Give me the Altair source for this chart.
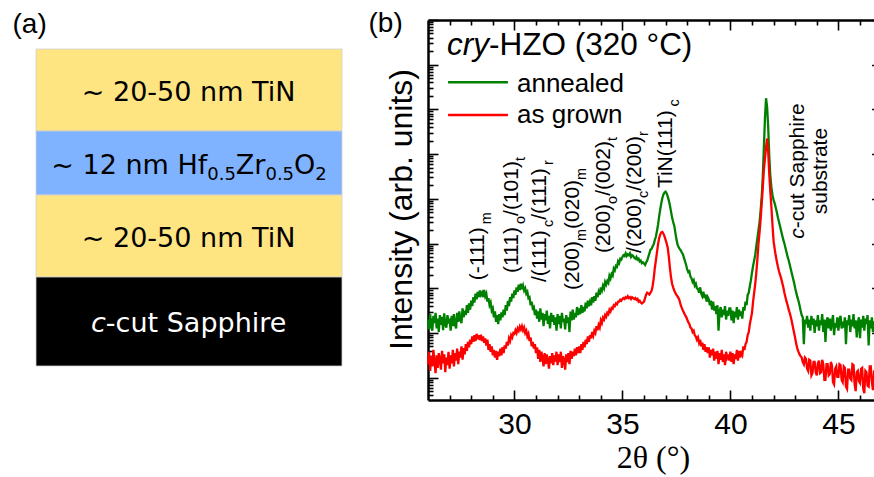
import altair as alt
import numpy as np
import pandas as pd

# ------------------------------------------------------------------ data
# 2θ sample positions (°), 0.05° steps
two_theta = np.round(np.arange(26.0, 47.025, 0.05), 2)

# log10 of the intensity (arb. units) (one row per degree)
annealed_log = [
    1.30, 1.08, 1.42, 1.15, 1.05, 1.38, 1.22, 1.45, 1.10, 1.32, 1.02, 1.40, 1.18, 1.36, 1.06, 1.44, 1.20, 1.12, 1.40, 1.25,  # 26
    1.28, 1.05, 1.38, 1.15, 1.42, 1.20, 1.10, 1.45, 1.25, 1.48, 1.30, 1.22, 1.55, 1.35, 1.50, 1.40, 1.62, 1.45, 1.66, 1.52,  # 27
    1.72, 1.60, 1.80, 1.68, 1.88, 1.75, 1.92, 1.80, 1.95, 1.85, 1.90, 1.80, 1.96, 1.82, 1.88, 1.70, 1.78, 1.62, 1.68, 1.50,  # 28
    1.55, 1.35, 1.48, 1.25, 1.40, 1.20, 1.42, 1.28, 1.46, 1.35, 1.52, 1.40, 1.62, 1.50, 1.72, 1.60, 1.80, 1.70, 1.88, 1.78,  # 29
    1.95, 1.85, 2.02, 1.92, 2.08, 1.96, 2.10, 1.98, 2.06, 1.95, 2.00, 1.88, 1.92, 1.78, 1.80, 1.62, 1.70, 1.55, 1.58, 1.40,  # 30
    1.52, 1.32, 1.48, 1.25, 1.55, 1.30, 1.45, 1.15, 1.42, 1.28, 1.50, 1.20, 1.38, 1.10, 1.45, 1.25, 1.40, 1.18, 1.35, 1.05,  # 31
    1.42, 1.20, 1.38, 1.10, 1.45, 1.25, 1.32, 1.08, 1.40, 1.22, 1.35, 1.02, 1.48, 1.28, 1.52, 1.30, 1.45, 1.35, 1.58, 1.40,  # 32
    1.55, 1.42, 1.62, 1.45, 1.58, 1.48, 1.68, 1.55, 1.72, 1.60, 1.70, 1.62, 1.80, 1.68, 1.82, 1.72, 1.90, 1.80, 1.92, 1.85,  # 33
    2.02, 1.95, 2.06, 2.00, 2.14, 2.08, 2.16, 2.12, 2.28, 2.22, 2.32, 2.28, 2.44, 2.40, 2.50, 2.48, 2.60, 2.56, 2.66, 2.64,  # 34
    2.70, 2.74, 2.72, 2.78, 2.72, 2.76, 2.74, 2.78, 2.70, 2.74, 2.72, 2.68, 2.66, 2.70, 2.64, 2.66, 2.60, 2.62, 2.56, 2.58,  # 35
    2.55, 2.52, 2.58, 2.62, 2.70, 2.78, 2.86, 2.88, 2.94, 2.98, 3.08, 3.15, 3.28, 3.42, 3.60, 3.76, 3.90, 4.02, 4.10, 4.14,  # 36
    4.16, 4.12, 4.05, 3.96, 3.85, 3.72, 3.58, 3.48, 3.40, 3.25, 3.10, 2.98, 2.92, 2.88, 2.85, 2.80, 2.76, 2.68, 2.60, 2.52,  # 37
    2.42, 2.36, 2.38, 2.26, 2.22, 2.14, 2.18, 2.06, 2.10, 2.00, 1.98, 1.90, 2.02, 1.88, 1.82, 1.92, 1.78, 1.86, 1.70, 1.80,  # 38
    1.75, 1.62, 1.72, 1.52, 1.70, 1.50, 1.60, 1.42, 1.62, 1.05, 1.48, 1.58, 1.35, 1.52, 1.40, 1.60, 1.30, 1.50, 1.38, 1.55,  # 39
    1.55, 1.28, 1.50, 1.22, 1.48, 1.35, 1.58, 1.30, 1.52, 1.38, 1.48, 1.32, 1.58, 1.50, 1.70, 1.62, 1.85, 1.90, 2.05, 2.18,  # 40
    2.35, 2.50, 2.62, 2.75, 2.95, 3.12, 3.30, 3.48, 3.75, 4.05, 4.50, 5.15, 5.80, 6.25, 6.05, 5.60, 4.95, 4.50, 4.25, 4.08,  # 41
    3.97, 3.90, 3.80, 3.70, 3.58, 3.48, 3.38, 3.28, 3.18, 3.08, 3.00, 2.90, 2.80, 2.70, 2.62, 2.52, 2.42, 2.32, 2.22, 2.12,  # 42
    2.00, 1.90, 1.80, 1.72, 1.62, 1.50, 1.40, 1.35, 0.75, 1.30, 1.20, 1.38, 1.12, 1.30, 1.05, 1.38, 1.18, 1.32, 1.00, 1.28,  # 43
    1.15, 1.40, 1.05, 1.28, 1.18, 1.42, 1.02, 1.30, 0.80, 1.25, 1.35, 1.10, 1.32, 1.05, 1.25, 1.40, 0.95, 1.22, 1.12, 1.35,  # 44
    1.05, 1.30, 1.38, 1.10, 1.25, 1.12, 1.35, 0.75, 1.28, 1.18, 1.40, 1.02, 1.30, 1.15, 1.42, 1.10, 1.28, 0.90, 1.22, 1.35,  # 45
    0.88, 1.30, 1.12, 1.38, 1.05, 1.32, 1.20, 1.40, 0.72, 1.28, 1.10, 1.35, 1.02, 1.26, 1.15, 1.40, 1.08, 1.30, 0.95, 1.25,  # 46
    1.15,                                                                                                                    # 47
]
as_grown_log = [
    0.30, 0.58, 0.15, 0.48, 0.25, 0.62, 0.35, 0.10, 0.50, 0.22, 0.55, 0.40, 0.18, 0.60, 0.32, 0.52, 0.12, 0.45, 0.28, 0.58,  # 26
    0.20, 0.50, 0.32, 0.62, 0.25, 0.55, 0.38, 0.65, 0.30, 0.58, 0.45, 0.70, 0.40, 0.66, 0.52, 0.75, 0.60, 0.80, 0.68, 0.85,  # 27
    0.75, 0.92, 0.80, 0.95, 0.82, 0.98, 0.86, 0.95, 0.84, 0.96, 0.82, 0.92, 0.78, 0.88, 0.72, 0.85, 0.62, 0.75, 0.58, 0.70,  # 28
    0.50, 0.62, 0.45, 0.60, 0.40, 0.58, 0.48, 0.65, 0.50, 0.68, 0.55, 0.72, 0.65, 0.80, 0.72, 0.88, 0.82, 0.95, 0.90, 1.00,  # 29
    0.98, 1.06, 1.00, 1.10, 1.05, 1.14, 1.08, 1.15, 1.06, 1.12, 1.00, 1.05, 0.92, 0.98, 0.82, 0.90, 0.70, 0.80, 0.65, 0.75,  # 30
    0.55, 0.68, 0.42, 0.62, 0.35, 0.58, 0.45, 0.25, 0.55, 0.30, 0.52, 0.40, 0.20, 0.48, 0.32, 0.55, 0.28, 0.50, 0.36, 0.58,  # 31
    0.28, 0.52, 0.35, 0.58, 0.22, 0.48, 0.40, 0.18, 0.52, 0.35, 0.55, 0.30, 0.60, 0.42, 0.58, 0.48, 0.65, 0.50, 0.68, 0.55,  # 32
    0.70, 0.55, 0.75, 0.62, 0.80, 0.68, 0.85, 0.75, 0.92, 0.80, 0.95, 0.88, 1.02, 0.94, 1.05, 1.00, 1.15, 1.06, 1.18, 1.12,  # 33
    1.28, 1.22, 1.34, 1.30, 1.40, 1.36, 1.45, 1.42, 1.52, 1.48, 1.56, 1.54, 1.62, 1.60, 1.66, 1.64, 1.70, 1.70, 1.74, 1.72,  # 34
    1.76, 1.78, 1.76, 1.80, 1.78, 1.82, 1.78, 1.80, 1.76, 1.80, 1.78, 1.76, 1.78, 1.74, 1.76, 1.70, 1.72, 1.68, 1.66, 1.68,  # 35
    1.70, 1.78, 1.86, 1.90, 1.88, 1.86, 1.90, 1.94, 2.05, 2.22, 2.45, 2.62, 2.80, 2.98, 3.12, 3.20, 3.25, 3.26, 3.22, 3.16,  # 36
    3.08, 3.00, 2.90, 2.70, 2.45, 2.25, 2.10, 2.02, 1.95, 1.90, 1.85, 1.82, 1.78, 1.72, 1.62, 1.56, 1.50, 1.45, 1.40, 1.36,  # 37
    1.30, 1.24, 1.20, 1.12, 1.10, 1.02, 1.05, 0.95, 0.92, 0.85, 0.90, 0.78, 0.85, 0.70, 0.78, 0.62, 0.75, 0.58, 0.68, 0.55,  # 38
    0.68, 0.45, 0.62, 0.50, 0.65, 0.38, 0.58, 0.42, 0.60, 0.30, 0.55, 0.40, 0.62, 0.35, 0.52, 0.28, 0.58, 0.45, 0.52, 0.38,  # 39
    0.58, 0.35, 0.55, 0.30, 0.52, 0.42, 0.62, 0.38, 0.60, 0.45, 0.55, 0.50, 0.70, 0.62, 0.75, 0.80, 0.95, 1.02, 1.20, 1.32,  # 40
    1.45, 1.70, 1.90, 2.10, 2.35, 2.65, 3.00, 3.25, 3.55, 3.90, 4.25, 4.65, 4.90, 5.15, 5.35, 5.05, 4.55, 4.15, 3.80, 3.40,  # 41
    3.05, 2.88, 2.72, 2.60, 2.48, 2.38, 2.30, 2.22, 2.12, 2.02, 1.90, 1.80, 1.70, 1.62, 1.52, 1.44, 1.35, 1.24, 1.12, 1.00,  # 42
    0.88, 0.75, 0.65, 0.58, 0.52, 0.48, 0.45, 0.35, 0.30, 0.45, 0.42, 0.20, 0.15, 0.40, 0.38, 0.05, 0.10, 0.35, 0.35, 0.12,  # 43
    0.05, 0.32, 0.38, 0.10, 0.12, 0.40, 0.30, -0.05, -0.05, 0.30, 0.30, 0.05, 0.08, 0.35, 0.28, -0.10, -0.15, 0.20, 0.25, 0.02,  # 44
    0.02, 0.30, 0.28, -0.05, -0.10, 0.25, 0.22, -0.20, -0.25, 0.18, 0.18, -0.02, -0.05, 0.30, 0.28, -0.15, -0.30, 0.12, 0.15, -0.08,  # 45
    -0.12, 0.20, 0.22, -0.25, -0.35, 0.15, 0.12, -0.18, -0.20, 0.25, 0.25, -0.10, -0.28, 0.12, 0.10, -0.22, -0.15, 0.20, 0.18, -0.05,  # 46
    0.05,                                                                                                                    # 47
]
assert len(two_theta) == len(annealed_log) == len(as_grown_log)

series_names = ["annealed", "as grown"]
series_colors = ["#008000", "#ff0000"]

# panel (a): layer stack (drawn thickness, schematic units, top to bottom)
stack_thickness = [82, 64, 82, 89]
stack_colors = ["#ffe482", "#80b3ff", "#ffe482", "#000000"]
stack_text_colors = ["black", "black", "black", "white"]
# rich text: n = normal, s = subscript, i = italic
stack_label_parts = [
    [("~ 20-50 nm TiN", "n")],
    [("~ 12 nm Hf", "n"), ("0.5", "s"), ("Zr", "n"), ("0.5", "s"), ("O", "n"), ("2", "s")],
    [("~ 20-50 nm TiN", "n")],
    [("c", "i"), ("-cut Sapphire", "n")],
]

# panel (b): reflection labels (rotated), anchored at (2θ, log10 I)
reflection_two_theta = [28.59, 30.17, 31.46, 32.99, 34.43, 35.86, 37.30, 43.41, 44.47]
reflection_log = [2.18, 2.34, 2.14, 1.96, 2.79, 2.79, 4.24, 4.62, 4.62]
reflection_centered = [False] * 7 + [True, True]
reflection_parts = [
    [("(-111)", "n"), ("m", "s")],
    [("(111)", "n"), ("o", "s"), ("/(101)", "n"), ("t", "s")],
    [("/(111)", "n"), ("c", "s"), ("/(111)", "n"), ("r", "s")],
    [("(200)", "n"), ("m", "s"), ("(020)", "n"), ("m", "s")],
    [("(200)", "n"), ("o", "s"), ("/(002)", "n"), ("t", "s")],
    [("/(200)", "n"), ("c", "s"), ("/(200)", "n"), ("r", "s")],
    [("TiN(111)", "n"), ("c", "s")],
    [("c", "i"), ("-cut Sapphire", "n")],
    [("substrate", "n")],
]
title_parts = [("cry", "i"), ("-HZO (320 °C)", "n")]
title_anchor = (26.88, 7.22)
legend_line_two_theta = (26.93, 29.70)
legend_text_two_theta = 30.12
legend_line_log = [6.61, 5.875]
legend_text_log = [6.39, 5.70]

# ------------------------------------------------------------------ layout
W, H = 874, 477
B_LEFT, B_RIGHT, B_TOP, B_BOTTOM = 428, 881.6, 20, 400
X_DOMAIN = [26, 47]
LOG_DOMAIN = [-0.5, 8]
A_LEFT, A_RIGHT, A_TOP, A_BOTTOM = 36, 342, 49, 366
PX_DEG = (B_RIGHT - B_LEFT) / (X_DOMAIN[1] - X_DOMAIN[0])
PX_DEC = (B_BOTTOM - B_TOP) / (LOG_DOMAIN[1] - LOG_DOMAIN[0])
A_PX_X = A_RIGHT - A_LEFT

SANS = "Liberation Sans"
SERIF = "Liberation Serif"
DEJAVU = "DejaVu Sans"

ARIAL_W = {'(': .333, ')': .333, '-': .333, '/': .278, ' ': .278, 'T': .611, 'i': .222,
           'N': .722, 'm': .833, 'o': .556, 't': .278, 'c': .5, 'r': .333, 'u': .556,
           'S': .667, 'a': .556, 'p': .556, 'h': .556, 'e': .556, 's': .5, 'b': .556,
           'H': .722, 'Z': .611, 'O': .778, '°': .4, 'C': .722, 'y': .5}
DEJAVU_W = {'~': .838, ' ': .318, '.': .318, '-': .361, 'n': .634, 'm': .974, 'T': .611,
            'i': .278, 'N': .748, 'H': .752, 'f': .352, 'Z': .685, 'r': .411, 'O': .787,
            'c': .550, 'u': .634, 't': .392, 'S': .635, 'a': .613, 'p': .635, 'h': .634,
            'e': .615}


def text_width(t, table, digit):
    return sum(digit if ch.isdigit() else table.get(ch, 0.55) for ch in t)


def segments(parts, table, digit, fs_main, fs_sub, shift, centered):
    sizes = [fs_sub if k == "s" else fs_main for _, k in parts]
    total = sum(text_width(t, table, digit) * fs for (t, _), fs in zip(parts, sizes))
    pos = -total / 2 if centered else 0.0
    out = []
    for (t, k), fs in zip(parts, sizes):
        out.append((pos, shift if k == "s" else 0.0, t, fs, k == "i"))
        pos += text_width(t, table, digit) * fs
    return out


# line data
df_lines = pd.DataFrame({
    "two_theta": np.concatenate([two_theta, two_theta]),
    "intensity": 10 ** np.concatenate([annealed_log, as_grown_log]),
    "series": [series_names[0]] * len(two_theta) + [series_names[1]] * len(two_theta),
})

# rotated reflection labels
rows = []
for tt, lg, parts, cen in zip(reflection_two_theta, reflection_log, reflection_parts, reflection_centered):
    for along, perp, t, fs, ital in segments(parts, ARIAL_W, .556, 21, 14.5, 7, cen):
        rows.append({"two_theta": tt + perp / PX_DEG, "intensity": 10 ** (lg + along / PX_DEC),
                     "text": t, "size": fs, "italic": ital})
df_refl = pd.DataFrame(rows)

# horizontal title
rows = []
for along, perp, t, fs, ital in segments(title_parts, ARIAL_W, .556, 31.5, 20, 0, False):
    rows.append({"two_theta": title_anchor[0] + along / PX_DEG,
                 "intensity": 10 ** (title_anchor[1] - perp / PX_DEC),
                 "text": t, "size": fs, "italic": ital})
df_title = pd.DataFrame(rows)

df_leg_lines = pd.DataFrame({
    "two_theta": [legend_line_two_theta[0]] * 2,
    "two_theta_end": [legend_line_two_theta[1]] * 2,
    "intensity": 10 ** np.array(legend_line_log),
    "color": series_colors,
})
df_leg_text = pd.DataFrame({
    "two_theta": [legend_text_two_theta] * 2,
    "intensity": 10 ** np.array(legend_text_log),
    "text": series_names,
})

# panel (a)
bottoms = np.cumsum(stack_thickness)
tops = bottoms - np.array(stack_thickness)
df_stack = pd.DataFrame({"x0": 0.0, "x1": 1.0, "top": tops, "bottom": bottoms, "color": stack_colors})
rows = []
for top, bot, parts, col in zip(tops, bottoms, stack_label_parts, stack_text_colors):
    base = (top + bot) / 2 + 0.729 * 27 / 2 + 1
    for along, perp, t, fs, ital in segments(parts, DEJAVU_W, .636, 27, 18, 6, True):
        rows.append({"x": 0.5 + along / A_PX_X, "y": base + perp, "text": t, "size": fs,
                     "italic": ital, "color": col})
df_stack_text = pd.DataFrame(rows)

# ------------------------------------------------------------------ scales / axes
x_scale_b = alt.Scale(domain=X_DOMAIN, range=[B_LEFT, B_RIGHT], nice=False, zero=False)
y_scale_b = alt.Scale(type="log", domain=[10 ** LOG_DOMAIN[0], 10 ** LOG_DOMAIN[1]],
                      range=[B_BOTTOM, B_TOP], nice=False)
x_scale_a = alt.Scale(domain=[0, 1], range=[A_LEFT, A_RIGHT], nice=False, zero=False)
y_scale_a = alt.Scale(domain=[0, int(sum(stack_thickness))], range=[A_TOP, A_BOTTOM], nice=False, zero=False)

y_tick_values = sorted({float(k * 10.0 ** n) for n in range(-1, 8) for k in range(1, 10)
                        if 10 ** LOG_DOMAIN[0] <= k * 10.0 ** n <= 10 ** LOG_DOMAIN[1]} | {1e8})
x_tick_values = list(range(27, 47))
Y_MAJOR = "abs(log(datum.value)/LN10 - round(log(datum.value)/LN10)) < 0.001"
X_MAJOR = "datum.value % 5 === 0"
y_ticksize = {"condition": {"test": Y_MAJOR, "value": -10}, "value": -5}
x_ticksize = {"condition": {"test": X_MAJOR, "value": -10}, "value": -5}

frame = dict(grid=False, domainColor="black", domainWidth=2.5, tickColor="black", tickWidth=1.6)

axis_bottom_labels = alt.Axis(
    orient="bottom", offset=-(H - B_BOTTOM), values=[30, 35, 40, 45], ticks=False, tickSize=0,
    labels=True, labelFont=SANS, labelFontSize=30, labelColor="black", labelBaseline="alphabetic",
    labelPadding=33, labelFlush=False, domain=True, title="2θ (°)", titleFont=SERIF,
    titleFontSize=32, titleFontWeight="normal", titleColor="black", titleBaseline="alphabetic",
    titleAlign="center", titleX=653, titleY=67, **frame)
axis_bottom_ticks = alt.Axis(
    orient="bottom", offset=-(H - B_BOTTOM), values=x_tick_values, labels=False, domain=False,
    tickSize=x_ticksize, title=None, **frame)
axis_top = alt.Axis(
    orient="top", offset=-B_TOP, values=x_tick_values, labels=False, domain=True,
    tickSize=x_ticksize, title="(b)", titleFont=SANS, titleFontSize=28, titleFontWeight="normal",
    titleColor="black", titleAlign="left", titleBaseline="alphabetic", titleX=368, titleY=11.5,
    titleAngle=0, **frame)
axis_left = alt.Axis(
    orient="left", offset=-B_LEFT, values=y_tick_values, labels=False, domain=True,
    tickSize=y_ticksize, title="Intensity (arb. units)", titleFont=SANS, titleFontSize=32,
    titleFontWeight="normal", titleColor="black", titleAngle=270, titleAlign="center",
    titleBaseline="alphabetic", titleX=-17, titleY=209, **frame)
axis_right = alt.Axis(
    orient="right", offset=B_RIGHT - W, values=y_tick_values, labels=False, domain=True,
    tickSize=y_ticksize, title=None, **frame)
axis_a = alt.Axis(
    orient="top", offset=0, domain=False, ticks=False, labels=False, grid=False, title="(a)",
    titleFont=SANS, titleFontSize=28, titleFontWeight="normal", titleColor="black",
    titleAlign="left", titleBaseline="alphabetic", titleX=12, titleY=32, titleAngle=0)


def xb(field="two_theta", axis=None):
    return alt.X(f"{field}:Q", scale=x_scale_b, axis=axis)


def yb(field="intensity", axis=None):
    return alt.Y(f"{field}:Q", scale=y_scale_b, axis=axis)


# ------------------------------------------------------------------ layers
green = alt.Chart(df_lines[df_lines.series == series_names[0]]).mark_line(
    color=series_colors[0], strokeWidth=2.3, strokeJoin="miter").encode(
    x=xb(axis=axis_bottom_labels), y=yb(axis=axis_left))
red = alt.Chart(df_lines[df_lines.series == series_names[1]]).mark_line(
    color=series_colors[1], strokeWidth=2.3, strokeJoin="miter").encode(
    x=xb(axis=axis_bottom_ticks), y=yb(axis=axis_right))

leg_lines = alt.Chart(df_leg_lines).mark_rule(strokeWidth=2.5).encode(
    x=xb(axis=axis_top), x2=alt.X2("two_theta_end:Q"), y=yb(),
    color=alt.Color("color:N", scale=None))
leg_text = alt.Chart(df_leg_text).mark_text(
    font=SANS, fontSize=26, align="left", baseline="alphabetic", color="black").encode(
    x=xb(), y=yb(), text="text:N")


def text_layers(df, font, angle):
    out = []
    for ital in (False, True):
        sub = df[df.italic == ital]
        if len(sub) == 0:
            continue
        out.append(alt.Chart(sub).mark_text(
            font=font, fontStyle="italic" if ital else "normal", angle=angle,
            align="left", baseline="alphabetic", color="black").encode(
            x=xb(), y=yb(), text="text:N", size=alt.Size("size:Q", scale=None)))
    return out


title_layers = text_layers(df_title, SANS, 0)
refl_layers = text_layers(df_refl, SANS, 270)

stack = alt.Chart(df_stack).mark_rect(stroke="#d0d0d0", strokeWidth=0.8).encode(
    x=alt.X("x0:Q", scale=x_scale_a, axis=axis_a), x2="x1:Q",
    y=alt.Y("top:Q", scale=y_scale_a, axis=None), y2="bottom:Q",
    color=alt.Color("color:N", scale=None))
stack_text_layers = []
for ital in (False, True):
    sub = df_stack_text[df_stack_text.italic == ital]
    stack_text_layers.append(alt.Chart(sub).mark_text(
        font=DEJAVU, fontStyle="italic" if ital else "normal", align="left",
        baseline="alphabetic").encode(
        x=alt.X("x:Q", scale=x_scale_a, axis=None),
        y=alt.Y("y:Q", scale=y_scale_a, axis=None),
        text="text:N", size=alt.Size("size:Q", scale=None),
        color=alt.Color("color:N", scale=None)))

chart = alt.layer(
    stack, *stack_text_layers,
    green, red, leg_lines, leg_text, *title_layers, *refl_layers,
).resolve_scale(x="independent", y="independent").resolve_axis(
    x="independent", y="independent").properties(
    width=W, height=H, padding=0, autosize=alt.AutoSizeParams(type="none"),
    background="white").configure_view(stroke=None)

chart.save("out.html", embed_options={"renderer": "svg", "actions": False})
